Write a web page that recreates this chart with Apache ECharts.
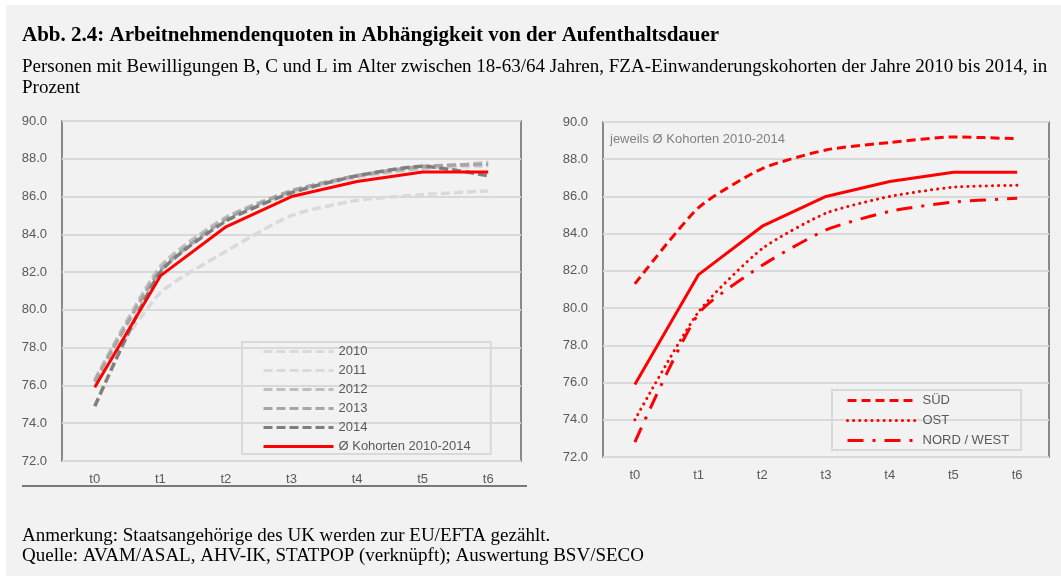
<!DOCTYPE html>
<html>
<head>
<meta charset="utf-8">
<script src="https://cdn.jsdelivr.net/npm/echarts@6/dist/echarts.min.js"></script>
<style>
  html, body { margin: 0; padding: 0; background: #fff; }
  #chart { width: 1061px; height: 576px; }
</style>
</head>
<body>
<div id="chart"></div>
<script>
  // Daten
  var categories = ['t0', 't1', 't2', 't3', 't4', 't5', 't6'];
  var kohorten = ['2010', '2011', '2012', '2013', '2014'];
  var k2010 = [76.1, 80.9, 83.1, 85.0, 85.8, 86.1, 86.3];
  var k2011 = [76.2, 82.0, 84.8, 86.2, 87.0, 87.5, 87.6];
  var k2012 = [76.3, 82.3, 84.9, 86.3, 87.1, 87.5, 87.8];
  var k2013 = [76.2, 82.1, 84.8, 86.3, 87.1, 87.6, 87.7];
  var k2014 = [74.9, 82.0, 84.7, 86.2, 87.1, 87.6, 87.1];
  var mittel = [75.9, 81.8, 84.4, 86.0, 86.8, 87.3, 87.3];
  var sued = [81.3, 85.4, 87.5, 88.5, 88.9, 89.2, 89.1];
  var ost = [74.0, 79.8, 83.2, 85.1, 86.0, 86.5, 86.6];
  var nordWest = [72.8, 79.7, 82.3, 84.2, 85.2, 85.7, 85.9];
  var yTicks = ['72.0', '74.0', '76.0', '78.0', '80.0', '82.0', '84.0', '86.0', '88.0', '90.0'];

  var avgName = 'Ø Kohorten 2010-2014';
  var grau = ['#dadada', '#dadada', '#bfbfbf', '#a6a6a6', '#7f7f7f'];
  var labelColor = '#595959';

  var myChart = echarts.init(document.getElementById('chart'));

  function xAxis(gridIndex) {
    return {
      type: 'category', gridIndex: gridIndex, data: categories, boundaryGap: true,
      axisLine: { show: false }, axisTick: { show: false },
      axisLabel: { color: labelColor, fontSize: 13, fontFamily: 'Liberation Sans', margin: 12 }
    };
  }
  function yAxis(gridIndex) {
    return {
      type: 'value', gridIndex: gridIndex, min: 72, max: 90, interval: 2,
      axisLine: { show: false }, axisTick: { show: false },
      axisLabel: {
        color: labelColor, fontSize: 13, fontFamily: 'Liberation Sans', margin: 15,
        formatter: function (v) { return yTicks[Math.round((v - 72) / 2)]; }
      },
      splitLine: { lineStyle: { color: '#d9d9d9', width: 2 } }
    };
  }

  var kohortData = [k2010, k2011, k2012, k2013, k2014];
  var series = kohorten.map(function (name, i) {
    return {
      name: name, type: 'line', xAxisIndex: 0, yAxisIndex: 0, data: kohortData[i],
      symbol: 'none', smooth: 0.2, z: 2 + i,
      lineStyle: { color: grau[i], width: 3.5, type: [9, 4] },
      itemStyle: { color: grau[i] }
    };
  });
  series.push({
    name: avgName, type: 'line', xAxisIndex: 0, yAxisIndex: 0, data: mittel,
    symbol: 'none', z: 10,
    lineStyle: { color: '#ff0000', width: 3 }, itemStyle: { color: '#ff0000' }
  });
  series.push({
    name: 'mittel_r', type: 'line', xAxisIndex: 1, yAxisIndex: 1, data: mittel,
    symbol: 'none', z: 10,
    lineStyle: { color: '#ff0000', width: 3 }, itemStyle: { color: '#ff0000' }
  });
  series.push({
    name: 'SÜD', type: 'line', xAxisIndex: 1, yAxisIndex: 1, data: sued,
    symbol: 'none', smooth: 0.2,
    lineStyle: { color: '#ff0000', width: 3, type: [9, 5] }, itemStyle: { color: '#ff0000' }
  });
  series.push({
    name: 'OST', type: 'line', xAxisIndex: 1, yAxisIndex: 1, data: ost,
    symbol: 'none', smooth: 0.2,
    lineStyle: { color: '#ff0000', width: 3, type: [0.1, 6], cap: 'round' }, itemStyle: { color: '#ff0000' }
  });
  series.push({
    name: 'NORD / WEST', type: 'line', xAxisIndex: 1, yAxisIndex: 1, data: nordWest,
    symbol: 'none', smooth: 0.2,
    lineStyle: { color: '#ff0000', width: 3, type: [16, 9, 3, 9] }, itemStyle: { color: '#ff0000' }
  });

  myChart.setOption({
    backgroundColor: '#f2f2f2',
    animation: false,
    title: [
      {
        text: 'Abb. 2.4: Arbeitnehmendenquoten in Abhängigkeit von der Aufenthaltsdauer',
        left: 22, top: 25, padding: 0,
        textStyle: { fontFamily: 'Liberation Serif', fontWeight: 'bold', fontSize: 21, color: '#000' }
      },
      {
        text: 'Personen mit Bewilligungen B, C und L im Alter zwischen 18-63/64 Jahren, FZA-Einwanderungskohorten der Jahre 2010 bis 2014, in\nProzent',
        left: 22, top: 57, padding: 0,
        textStyle: { fontFamily: 'Liberation Serif', fontWeight: 'normal', fontSize: 19, lineHeight: 21, color: '#000' }
      },
      {
        text: 'Anmerkung: Staatsangehörige des UK werden zur EU/EFTA gezählt.\nQuelle: AVAM/ASAL, AHV-IK, STATPOP (verknüpft); Auswertung BSV/SECO',
        left: 22, top: 526, padding: 0,
        textStyle: { fontFamily: 'Liberation Serif', fontWeight: 'normal', fontSize: 19, lineHeight: 20, color: '#000' }
      },
      {
        text: 'jeweils Ø Kohorten 2010-2014',
        left: 610, top: 133, padding: 0,
        textStyle: { fontFamily: 'Liberation Sans', fontWeight: 'normal', fontSize: 13, color: '#808080' }
      }
    ],
    graphic: [
      { type: 'rect', shape: { x: 0, y: 0, width: 1061, height: 5 }, style: { fill: '#fff' } },
      { type: 'rect', shape: { x: 0, y: 0, width: 6, height: 576 }, style: { fill: '#fff' } },
      { type: 'line', shape: { x1: 22, y1: 486, x2: 527, y2: 486 }, style: { stroke: '#000', lineWidth: 1 } }
    ],
    legend: [
      {
        data: kohorten.concat([avgName]),
        orient: 'vertical', left: 242, top: 342,
        itemWidth: 70, itemHeight: 10, itemGap: 6,
        padding: [3, 20, 1, 20],
        borderColor: '#d9d9d9', borderWidth: 2,
        itemStyle: { opacity: 0 },
        lineStyle: { width: 3 },
        textStyle: { color: labelColor, fontSize: 13, fontFamily: 'Liberation Sans' },
        selectedMode: false
      },
      {
        data: ['SÜD', 'OST', 'NORD / WEST'],
        orient: 'vertical', left: 832, top: 390,
        itemWidth: 70, itemHeight: 10, itemGap: 7,
        padding: [4, 12, 3, 14],
        borderColor: '#d9d9d9', borderWidth: 2,
        itemStyle: { opacity: 0 },
        lineStyle: { width: 3 },
        textStyle: { color: labelColor, fontSize: 13, fontFamily: 'Liberation Sans' },
        selectedMode: false
      }
    ],
    grid: [
      { left: 62, top: 121, width: 459, height: 340, show: true, borderColor: '#898989', borderWidth: 2, backgroundColor: 'transparent' },
      { left: 603, top: 122, width: 446, height: 335, show: true, borderColor: '#898989', borderWidth: 2, backgroundColor: 'transparent' }
    ],
    xAxis: [xAxis(0), xAxis(1)],
    yAxis: [yAxis(0), yAxis(1)],
    series: series
  });
</script>
</body>
</html>
